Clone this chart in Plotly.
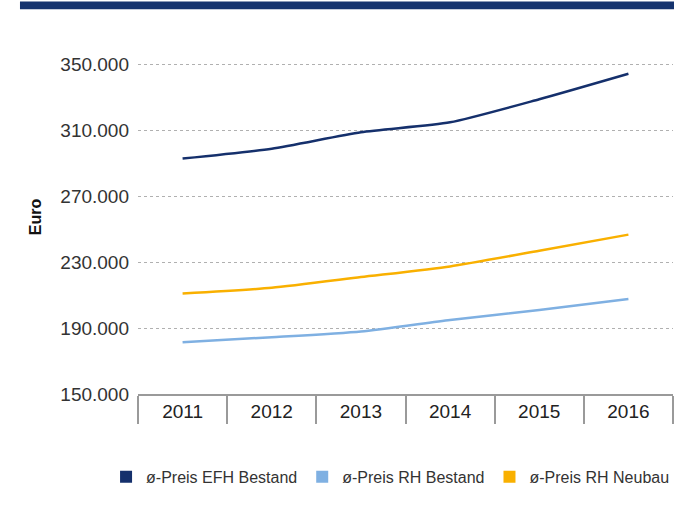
import plotly.graph_objects as go

years = ["2011", "2012", "2013", "2014", "2015", "2016"]
efh_bestand = [293000, 299000, 309000, 315000, 329000, 344500]
rh_bestand = [181500, 184500, 188000, 195000, 201000, 207700]
rh_neubau = [211000, 214500, 221000, 227500, 237000, 246800]

series_names = ["ø-Preis EFH Bestand", "ø-Preis RH Bestand", "ø-Preis RH Neubau"]
series_values = [efh_bestand, rh_bestand, rh_neubau]
series_colors = ["#15306c", "#7fb0e2", "#f9b000"]

y_ticks = [150000, 190000, 230000, 270000, 310000, 350000]
y_ticklabels = ["150.000", "190.000", "230.000", "270.000", "310.000", "350.000"]

FONT = "Liberation Sans, Arial, sans-serif"

fig = go.Figure()
for name, vals, col in zip(series_names, series_values, series_colors):
    fig.add_trace(go.Scatter(x=years, y=vals, mode="lines", name=name,
                             line=dict(color=col, width=2.5, shape="spline", smoothing=0.6),
                             showlegend=False, hoverinfo="skip"))
for name, col in zip(series_names, series_colors):
    fig.add_trace(go.Scatter(x=[None], y=[None], mode="markers", name=name,
                             marker=dict(symbol="square", size=13, color=col),
                             showlegend=True))

fig.add_shape(type="rect", xref="paper", yref="paper", x0=-0.2206, x1=1.01,
              y0=1.0867, y1=1.1088, fillcolor="#15336e", line=dict(width=0))

fig.update_layout(
    width=674, height=518,
    margin=dict(l=138, r=1, t=40, b=124, autoexpand=False),
    paper_bgcolor="white", plot_bgcolor="white",
    font=dict(family=FONT, color="#333333", size=18),
    showlegend=True,
    legend=dict(orientation="h", x=-0.0597, xanchor="left", y=-0.186, yanchor="top",
                font=dict(size=16, color="#333333"), itemsizing="constant",
                traceorder="normal", itemwidth=30),
    xaxis=dict(type="category", range=[-0.5, 5.5], showline=True, linecolor="#9a9a9a",
               linewidth=1.5, ticks="outside", tickson="boundaries", ticklen=28,
               tickcolor="#9a9a9a", tickwidth=1.5, showgrid=False, automargin=False,
               ticklabelstandoff=-1, tickfont=dict(size=19, color="#222222")),
    yaxis=dict(range=[150000, 365000], tickvals=y_ticks, ticktext=y_ticklabels,
               showgrid=True, gridcolor="#b0b0b0", griddash="dot", gridwidth=1,
               zeroline=False, showline=False, ticks="", ticklabelstandoff=8,
               automargin=False, tickfont=dict(size=19, color="#333333"),
               title=dict(text="<b>Euro</b>", font=dict(size=16, color="#111111"), standoff=14)),
)

fig.write_html("out.html", config={"displayModeBar": False},
               post_script="document.body.style.margin='0';document.body.style.padding='0';")
